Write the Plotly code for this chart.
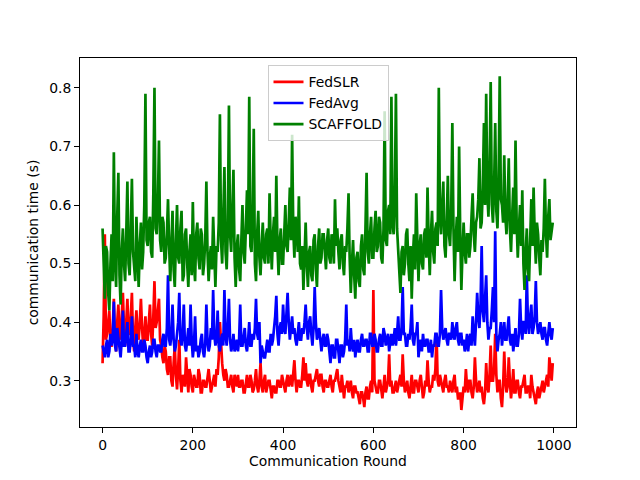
import plotly.graph_objects as go

_FONT = "DejaVu Sans, sans-serif"
_SIZE = 13.9

# one sample every 2.5 rounds
rounds = [i * 2.5 for i in range(400)]

fedslr = [
    0.33, 0.41, 0.55, 0.37, 0.38, 0.40, 0.42, 0.36, 0.36, 0.39, 0.44, 0.37, 0.35, 0.40, 0.43, 0.38, 0.37, 0.41, 0.45, 0.39,
    0.36, 0.40, 0.44, 0.38, 0.38, 0.41, 0.45, 0.37, 0.35, 0.39, 0.42, 0.38, 0.37, 0.40, 0.44, 0.39, 0.36, 0.38, 0.41, 0.37,
    0.37, 0.40, 0.43, 0.38, 0.36, 0.41, 0.47, 0.39, 0.40, 0.42, 0.44, 0.37, 0.36, 0.34, 0.33, 0.36, 0.35, 0.32, 0.31, 0.34,
    0.34, 0.30, 0.29, 0.33, 0.36, 0.31, 0.285, 0.32, 0.37, 0.30, 0.28, 0.31, 0.30, 0.29, 0.34, 0.30, 0.28, 0.32, 0.31, 0.29,
    0.28, 0.31, 0.30, 0.29, 0.29, 0.32, 0.31, 0.28, 0.28, 0.30, 0.30, 0.29, 0.29, 0.31, 0.32, 0.30, 0.28, 0.29, 0.30, 0.31,
    0.29, 0.32, 0.31, 0.34, 0.40, 0.35, 0.33, 0.31, 0.30, 0.32, 0.31, 0.29, 0.29, 0.30, 0.31, 0.29, 0.28, 0.31, 0.30, 0.29,
    0.31, 0.29, 0.29, 0.30, 0.30, 0.28, 0.28, 0.30, 0.31, 0.29, 0.29, 0.31, 0.30, 0.28, 0.285, 0.30, 0.32, 0.29, 0.28, 0.30,
    0.33, 0.29, 0.28, 0.30, 0.31, 0.28, 0.29, 0.30, 0.30, 0.28, 0.27, 0.29, 0.29, 0.28, 0.28, 0.30, 0.30, 0.29, 0.29, 0.31,
    0.30, 0.29, 0.28, 0.30, 0.31, 0.29, 0.30, 0.31, 0.29, 0.31, 0.335, 0.30, 0.28, 0.30, 0.30, 0.29, 0.29, 0.31, 0.34, 0.30,
    0.33, 0.30, 0.29, 0.31, 0.31, 0.29, 0.28, 0.30, 0.30, 0.31, 0.32, 0.30, 0.29, 0.31, 0.31, 0.29, 0.28, 0.30, 0.30, 0.29,
    0.29, 0.30, 0.31, 0.29, 0.28, 0.30, 0.30, 0.31, 0.32, 0.30, 0.29, 0.28, 0.31, 0.29, 0.27, 0.29, 0.29, 0.30, 0.28, 0.29,
    0.30, 0.28, 0.27, 0.29, 0.29, 0.28, 0.28, 0.27, 0.26, 0.28, 0.28, 0.27, 0.255, 0.28, 0.29, 0.27, 0.27, 0.29, 0.30, 0.28,
    0.455, 0.30, 0.29, 0.28, 0.28, 0.30, 0.30, 0.28, 0.27, 0.29, 0.31, 0.28, 0.29, 0.30, 0.345, 0.29, 0.30, 0.28, 0.28, 0.29,
    0.30, 0.28, 0.29, 0.30, 0.31, 0.29, 0.345, 0.30, 0.28, 0.29, 0.30, 0.28, 0.27, 0.29, 0.31, 0.28, 0.28, 0.30, 0.30, 0.29,
    0.28, 0.30, 0.31, 0.29, 0.27, 0.28, 0.30, 0.29, 0.335, 0.30, 0.28, 0.29, 0.29, 0.31, 0.30, 0.32, 0.38, 0.30, 0.29, 0.31,
    0.30, 0.29, 0.28, 0.30, 0.31, 0.29, 0.29, 0.28, 0.30, 0.29, 0.28, 0.30, 0.31, 0.28, 0.29, 0.27, 0.27, 0.28, 0.25, 0.27,
    0.29, 0.28, 0.32, 0.29, 0.28, 0.30, 0.30, 0.28, 0.27, 0.29, 0.34, 0.30, 0.28, 0.29, 0.30, 0.28, 0.29, 0.27, 0.26, 0.28,
    0.33, 0.29, 0.28, 0.31, 0.36, 0.30, 0.30, 0.32, 0.38, 0.31, 0.28, 0.30, 0.30, 0.27, 0.255, 0.29, 0.35, 0.30, 0.28, 0.29,
    0.34, 0.30, 0.27, 0.29, 0.32, 0.28, 0.28, 0.30, 0.30, 0.28, 0.27, 0.29, 0.29, 0.30, 0.31, 0.28, 0.28, 0.29, 0.29, 0.27,
    0.31, 0.29, 0.28, 0.27, 0.26, 0.28, 0.29, 0.27, 0.28, 0.29, 0.30, 0.28, 0.29, 0.30, 0.31, 0.29, 0.34, 0.32, 0.30, 0.33,
]

fedavg = [
    0.36, 0.35, 0.34, 0.36, 0.37, 0.34, 0.35, 0.38, 0.36, 0.37, 0.435, 0.36, 0.35, 0.39, 0.37, 0.35, 0.34, 0.37, 0.42, 0.36,
    0.36, 0.38, 0.40, 0.35, 0.35, 0.37, 0.41, 0.36, 0.36, 0.34, 0.38, 0.35, 0.34, 0.36, 0.37, 0.35, 0.35, 0.37, 0.36, 0.34,
    0.33, 0.35, 0.36, 0.34, 0.35, 0.37, 0.37, 0.35, 0.34, 0.36, 0.36, 0.35, 0.35, 0.37, 0.38, 0.36, 0.36, 0.39, 0.48, 0.37,
    0.36, 0.38, 0.43, 0.37, 0.35, 0.36, 0.38, 0.40, 0.45, 0.37, 0.36, 0.38, 0.43, 0.36, 0.35, 0.37, 0.39, 0.36, 0.43, 0.37,
    0.34, 0.36, 0.41, 0.35, 0.36, 0.34, 0.35, 0.37, 0.38, 0.35, 0.34, 0.36, 0.43, 0.37, 0.35, 0.36, 0.39, 0.37, 0.455, 0.38,
    0.36, 0.37, 0.42, 0.36, 0.35, 0.37, 0.38, 0.36, 0.455, 0.38, 0.36, 0.39, 0.44, 0.37, 0.35, 0.36, 0.38, 0.35, 0.36, 0.37,
    0.35, 0.37, 0.43, 0.36, 0.36, 0.38, 0.39, 0.36, 0.35, 0.37, 0.40, 0.36, 0.36, 0.38, 0.37, 0.39, 0.44, 0.38, 0.37, 0.40,
    0.33, 0.36, 0.35, 0.34, 0.34, 0.36, 0.37, 0.35, 0.35, 0.38, 0.36, 0.37, 0.39, 0.41, 0.445, 0.38, 0.36, 0.39, 0.40, 0.38,
    0.43, 0.39, 0.38, 0.41, 0.45, 0.40, 0.37, 0.39, 0.41, 0.38, 0.39, 0.37, 0.36, 0.38, 0.40, 0.37, 0.37, 0.39, 0.38, 0.40,
    0.43, 0.39, 0.37, 0.40, 0.41, 0.38, 0.36, 0.39, 0.46, 0.40, 0.37, 0.38, 0.39, 0.37, 0.35, 0.37, 0.38, 0.36, 0.36, 0.38,
    0.37, 0.35, 0.33, 0.36, 0.36, 0.34, 0.34, 0.37, 0.37, 0.35, 0.33, 0.36, 0.36, 0.34, 0.35, 0.37, 0.43, 0.36, 0.37, 0.35,
    0.39, 0.36, 0.35, 0.37, 0.34, 0.36, 0.37, 0.35, 0.35, 0.37, 0.38, 0.36, 0.36, 0.37, 0.37, 0.35, 0.35, 0.38, 0.38, 0.36,
    0.36, 0.38, 0.37, 0.35, 0.35, 0.37, 0.38, 0.36, 0.36, 0.39, 0.38, 0.36, 0.37, 0.38, 0.35, 0.37, 0.38, 0.36, 0.37, 0.39,
    0.36, 0.38, 0.41, 0.37, 0.37, 0.39, 0.46, 0.38, 0.38, 0.36, 0.36, 0.38, 0.37, 0.39, 0.43, 0.37, 0.36, 0.38, 0.38, 0.40,
    0.34, 0.36, 0.37, 0.35, 0.38, 0.36, 0.36, 0.37, 0.37, 0.35, 0.35, 0.37, 0.34, 0.36, 0.36, 0.38, 0.38, 0.36, 0.36, 0.38,
    0.455, 0.39, 0.37, 0.38, 0.39, 0.37, 0.36, 0.38, 0.38, 0.37, 0.40, 0.38, 0.37, 0.39, 0.40, 0.37, 0.36, 0.38, 0.38, 0.36,
    0.37, 0.35, 0.36, 0.38, 0.35, 0.37, 0.38, 0.36, 0.41, 0.38, 0.36, 0.40, 0.45, 0.41, 0.39, 0.43, 0.53, 0.42, 0.40, 0.44,
    0.48, 0.40, 0.37, 0.39, 0.39, 0.42, 0.46, 0.40, 0.555, 0.38, 0.35, 0.37, 0.38, 0.40, 0.36, 0.38, 0.40, 0.37, 0.37, 0.39,
    0.41, 0.37, 0.36, 0.38, 0.35, 0.37, 0.39, 0.36, 0.36, 0.38, 0.44, 0.39, 0.37, 0.40, 0.40, 0.38, 0.48, 0.40, 0.38, 0.41,
    0.43, 0.38, 0.39, 0.41, 0.47, 0.40, 0.38, 0.39, 0.40, 0.38, 0.37, 0.39, 0.39, 0.37, 0.36, 0.38, 0.40, 0.38, 0.37, 0.39,
]

scaffold = [
    0.56, 0.49, 0.44, 0.53, 0.52, 0.45, 0.42, 0.50, 0.55, 0.47, 0.69, 0.51, 0.46, 0.58, 0.655, 0.48, 0.43, 0.52, 0.56, 0.50,
    0.47, 0.55, 0.64, 0.50, 0.48, 0.56, 0.645, 0.52, 0.50, 0.47, 0.58, 0.51, 0.46, 0.53, 0.57, 0.49, 0.52, 0.60, 0.79, 0.54,
    0.53, 0.57, 0.58, 0.52, 0.51, 0.62, 0.80, 0.56, 0.55, 0.60, 0.71, 0.54, 0.52, 0.58, 0.57, 0.50, 0.51, 0.55, 0.61, 0.53,
    0.47, 0.53, 0.59, 0.49, 0.46, 0.54, 0.60, 0.51, 0.50, 0.56, 0.59, 0.47, 0.48, 0.55, 0.56, 0.50, 0.46, 0.52, 0.55, 0.48,
    0.605, 0.50, 0.47, 0.55, 0.57, 0.51, 0.49, 0.56, 0.55, 0.48, 0.50, 0.54, 0.64, 0.52, 0.47, 0.51, 0.53, 0.49, 0.58, 0.52,
    0.46, 0.53, 0.52, 0.57, 0.755, 0.54, 0.50, 0.58, 0.665, 0.52, 0.49, 0.56, 0.77, 0.55, 0.52, 0.59, 0.66, 0.51, 0.46, 0.53,
    0.55, 0.49, 0.47, 0.54, 0.60, 0.52, 0.50, 0.56, 0.625, 0.55, 0.785, 0.53, 0.52, 0.58, 0.73, 0.50, 0.47, 0.55, 0.59, 0.51,
    0.48, 0.53, 0.57, 0.51, 0.50, 0.55, 0.56, 0.50, 0.62, 0.54, 0.49, 0.55, 0.58, 0.52, 0.65, 0.53, 0.48, 0.54, 0.56, 0.50,
    0.50, 0.55, 0.60, 0.53, 0.52, 0.57, 0.63, 0.54, 0.72, 0.56, 0.51, 0.58, 0.56, 0.52, 0.615, 0.50, 0.49, 0.53, 0.455, 0.51,
    0.57, 0.50, 0.46, 0.52, 0.53, 0.48, 0.47, 0.54, 0.55, 0.49, 0.46, 0.53, 0.56, 0.50, 0.51, 0.55, 0.55, 0.52, 0.49, 0.54,
    0.56, 0.51, 0.50, 0.55, 0.54, 0.50, 0.61, 0.53, 0.56, 0.52, 0.49, 0.54, 0.55, 0.50, 0.48, 0.53, 0.52, 0.56, 0.62, 0.51,
    0.45, 0.50, 0.54, 0.48, 0.44, 0.51, 0.52, 0.47, 0.46, 0.53, 0.55, 0.49, 0.48, 0.56, 0.655, 0.52, 0.50, 0.55, 0.58, 0.51,
    0.51, 0.56, 0.59, 0.52, 0.53, 0.58, 0.57, 0.51, 0.50, 0.56, 0.76, 0.54, 0.53, 0.59, 0.60, 0.55, 0.785, 0.57, 0.55, 0.61,
    0.79, 0.56, 0.52, 0.49, 0.45, 0.52, 0.53, 0.48, 0.50, 0.55, 0.56, 0.50, 0.47, 0.53, 0.44, 0.51, 0.55, 0.49, 0.62, 0.54,
    0.47, 0.53, 0.55, 0.50, 0.49, 0.55, 0.56, 0.51, 0.63, 0.54, 0.48, 0.55, 0.59, 0.52, 0.50, 0.56, 0.57, 0.53, 0.80, 0.58,
    0.55, 0.60, 0.64, 0.53, 0.51, 0.57, 0.65, 0.55, 0.53, 0.59, 0.74, 0.56, 0.47, 0.54, 0.58, 0.52, 0.70, 0.55, 0.455, 0.52,
    0.57, 0.52, 0.50, 0.55, 0.55, 0.51, 0.53, 0.58, 0.62, 0.55, 0.52, 0.57, 0.58, 0.61, 0.68, 0.56, 0.57, 0.63, 0.74, 0.60,
    0.79, 0.62, 0.58, 0.66, 0.81, 0.60, 0.57, 0.63, 0.74, 0.59, 0.56, 0.64, 0.82, 0.61, 0.60, 0.57, 0.685, 0.58, 0.55, 0.60,
    0.68, 0.56, 0.52, 0.58, 0.63, 0.55, 0.71, 0.57, 0.51, 0.56, 0.60, 0.53, 0.625, 0.50, 0.455, 0.52, 0.56, 0.49, 0.47, 0.54,
    0.61, 0.53, 0.63, 0.55, 0.50, 0.57, 0.55, 0.51, 0.48, 0.54, 0.52, 0.56, 0.645, 0.55, 0.51, 0.58, 0.61, 0.54, 0.56, 0.57,
]

series = [
    ("FedSLR", fedslr, "#ff0000"),
    ("FedAvg", fedavg, "#0000ff"),
    ("SCAFFOLD", scaffold, "#008000"),
]

fig = go.Figure()
for name, vals, color in series:
    fig.add_trace(go.Scatter(
        x=rounds, y=vals, name=name, mode="lines",
        line=dict(color=color, width=2.7),
    ))

# page body has an 8px margin, so the margins are shifted by 8px
fig.update_layout(
    width=640, height=480,
    paper_bgcolor="white", plot_bgcolor="white",
    font=dict(family=_FONT, color="black", size=_SIZE),
    margin=dict(l=72, r=72, t=50, b=61),
    legend=dict(
        x=0.5, y=0.98, xanchor="center", yanchor="top",
        bgcolor="rgba(255,255,255,0.8)", bordercolor="#cccccc", borderwidth=1,
        font=dict(size=_SIZE), itemwidth=30, tracegroupgap=0,
    ),
)
fig.update_xaxes(
    range=[-50, 1049], tickvals=[0, 200, 400, 600, 800, 1000],
    showgrid=False, zeroline=False,
    showline=True, linecolor="black", linewidth=1, mirror=True,
    ticks="outside", ticklen=5, tickcolor="black",
    tickfont=dict(size=_SIZE),
    title=dict(text="Communication Round", standoff=3, font=dict(size=_SIZE)),
)
fig.update_yaxes(
    range=[0.221, 0.851], tickvals=[0.3, 0.4, 0.5, 0.6, 0.7, 0.8],
    ticktext=["0.3", "0.4", "0.5", "0.6", "0.7", "0.8"],
    showgrid=False, zeroline=False,
    showline=True, linecolor="black", linewidth=1, mirror=True,
    ticks="outside", ticklen=5, tickcolor="black",
    tickfont=dict(size=_SIZE),
    title=dict(text="communication time (s)", standoff=7, font=dict(size=_SIZE)),
)

fig.write_html("out.html")
